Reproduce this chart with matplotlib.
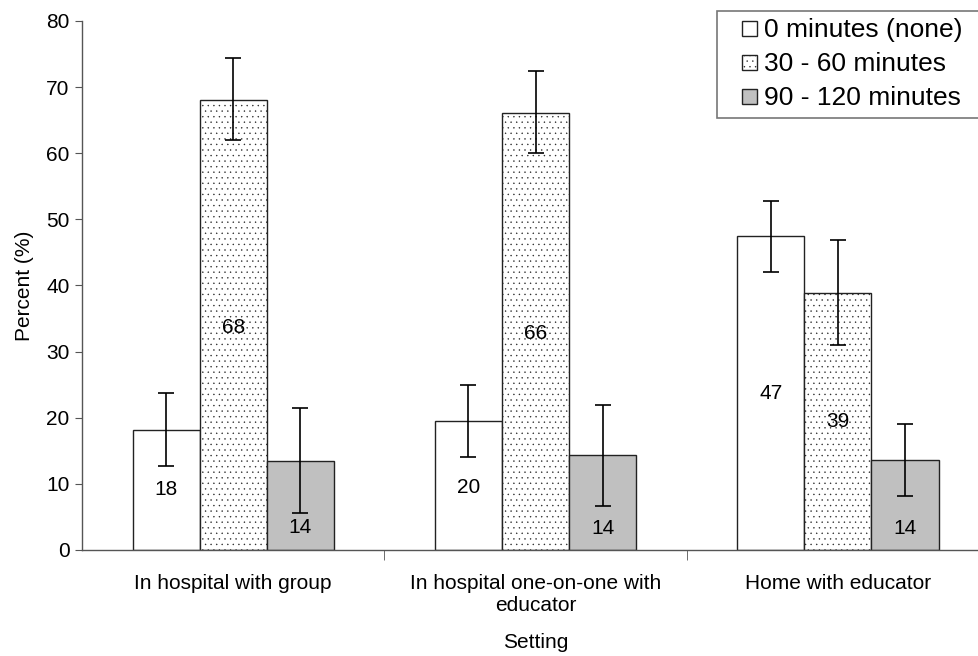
import numpy as np
import matplotlib
matplotlib.use('Agg')
import matplotlib.pyplot as plt
from matplotlib.patches import Rectangle
from matplotlib.legend_handler import HandlerPatch

plt.rcParams['font.family'] = ['Liberation Sans', 'DejaVu Sans']
plt.rcParams['hatch.color'] = '#a8a8a8'
plt.rcParams['hatch.linewidth'] = 0.25

# --- Data ---
settings = ["In hospital with group", "In hospital one-on-one with\neducator", "Home with educator"]
series_names = ["0 minutes (none)", "30 - 60 minutes", "90 - 120 minutes"]

pct_none = [18.2, 19.5, 47.5]
pct_30_60 = [68.1, 66.1, 38.9]
pct_90_120 = [13.5, 14.4, 13.6]

low_none = [12.7, 14.0, 42.0]
high_none = [23.7, 25.0, 52.8]
low_30_60 = [62.0, 60.0, 31.0]
high_30_60 = [74.4, 72.5, 46.9]
low_90_120 = [5.6, 6.6, 8.2]
high_90_120 = [21.4, 22.0, 19.0]

labels_none = ["18", "20", "47"]
labels_30_60 = ["68", "66", "39"]
labels_90_120 = ["14", "14", "14"]

# where the value labels sit (data units)
labpos_none = [9.1, 9.5, 23.7]
labpos_30_60 = [33.7, 32.8, 19.4]
labpos_90_120 = [3.4, 3.3, 3.3]

FS = 15

fig = plt.figure(figsize=(9.79, 6.56), dpi=100)
ax = fig.add_axes([0.0838, 0.1616, 0.9265, 0.8064])

x = np.arange(len(settings))
w = 0.222

series = [
    (pct_none, low_none, high_none, labels_none, labpos_none, 'white', None),
    (pct_30_60, low_30_60, high_30_60, labels_30_60, labpos_30_60, 'white', '...'),
    (pct_90_120, low_90_120, high_90_120, labels_90_120, labpos_90_120, '#c0c0c0', None),
]

handles = []
for i, (vals, lo, hi, labs, lpos, color, hatch) in enumerate(series):
    xpos = x + (i - 1) * w
    vals = np.array(vals)
    yerr = [vals - np.array(lo), np.array(hi) - vals]
    b = ax.bar(xpos, vals, w, color=color, edgecolor='#222222', linewidth=1.0,
               hatch=hatch, zorder=2)
    handles.append(b.patches[0])
    ax.errorbar(xpos, vals, yerr=yerr, fmt='none', ecolor='black',
                elinewidth=1.2, capsize=6, capthick=1.2, zorder=3)
    for xp, lab, yp in zip(xpos, labs, lpos):
        ax.text(xp, yp, lab, ha='center', va='center', fontsize=FS, zorder=4)

ax.set_xlim(-0.5, 2.5)
ax.set_ylim(0, 80)
ax.set_yticks(range(0, 81, 10))

ax.set_xticks(x)
ax.set_xticklabels(settings, fontsize=FS, linespacing=1.25)
ax.set_xticks([0.5, 1.5], minor=True)
ax.tick_params(axis='x', which='major', length=0, pad=17)
ax.tick_params(axis='x', which='minor', length=7, color='#555555')
ax.tick_params(axis='y', labelsize=FS, length=5, color='#555555', pad=4)

for s in ['top', 'right']:
    ax.spines[s].set_visible(False)
for s in ['left', 'bottom']:
    ax.spines[s].set_color('#555555')
    ax.spines[s].set_linewidth(1.0)

ax.set_ylabel("Percent (%)", fontsize=FS, labelpad=9)
ax.set_xlabel("Setting", fontsize=FS)
ax.xaxis.set_label_coords(0.5, -0.157)


# small square legend keys, pushed to the right of the key box
def small_square(legend, orig_handle, xdescent, ydescent, width, height, fontsize):
    s = 15 * 72 / 100
    return Rectangle((-xdescent + width - s, -ydescent + (height - s) / 2), s, s)


leg = fig.legend(handles=handles, labels=series_names, loc='upper left',
                 bbox_to_anchor=(0.7324, 0.5, 0.30, 0.4832), mode='expand',
                 fontsize=19, frameon=True, fancybox=False, edgecolor='#555555',
                 handler_map={h: HandlerPatch(patch_func=small_square) for h in handles},
                 handlelength=1.24, handleheight=0.6, handletextpad=0.27,
                 labelspacing=0.38, borderpad=0.28, borderaxespad=0)
leg.get_frame().set_linewidth(1.2)

fig.savefig('out.png', dpi=100)
